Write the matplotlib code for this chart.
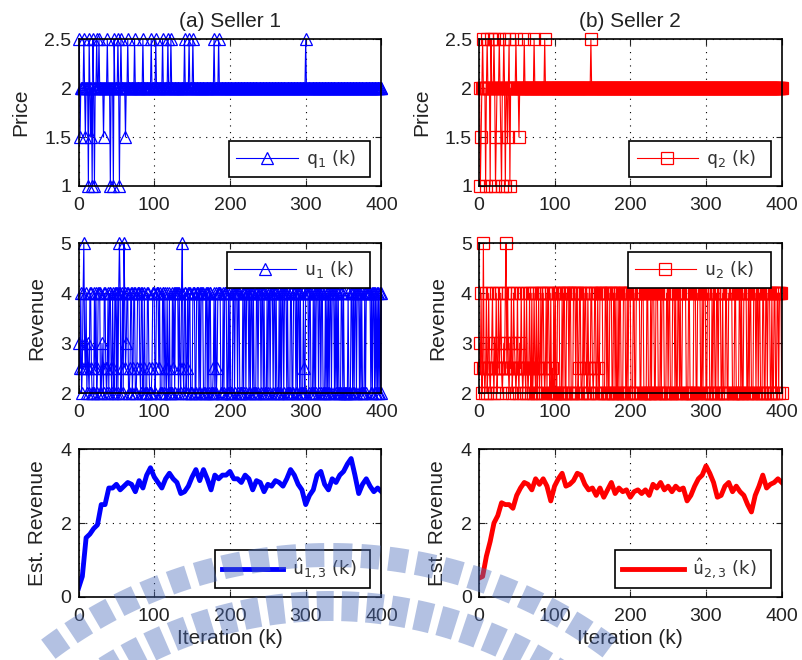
import numpy as np
import matplotlib
matplotlib.use('Agg')
import matplotlib.pyplot as plt
from matplotlib.patches import Wedge

plt.rcParams['font.family'] = ['Liberation Sans', 'DejaVu Sans']
plt.rcParams['mathtext.fontset'] = 'dejavusans'

iters = np.arange(1, 401)

# price spikes (all other iterations sit at 2)
q1_at_25 = [1, 7, 14, 19, 24, 27, 38, 47, 52, 56, 65, 74, 85, 96, 102, 111, 118, 122, 140, 146, 151, 179, 185, 300]
q1_at_15 = [2, 9, 16, 33, 62]
q1_at_10 = [13, 18, 21, 42, 46, 54]
q2_at_25 = [5, 11, 16, 20, 27, 33, 40, 49, 60, 73, 87, 148]
q2_at_15 = [3, 23, 29, 38, 53]
q2_at_10 = [2, 9, 15, 22, 30, 35, 41]

# revenue per iteration, 10 iterations per chunk: 2=2, h=2.5, 3=3, 4=4, 5=5
rev_code = {'2': 2.0, 'h': 2.5, '3': 3.0, '4': 4.0, '5': 5.0}
u1_rows = ["3h42h453h4", "23h244h222", "4h42h44422", "3h244h2h42", "44h24h2442",
           "424542h425", "4h34422h44", "2h4422h444", "h2442h4222", "44h222h444",
           "2h444h4222", "4424h24h24", "2224h42444", "424h245h24", "42h4244222",
           "4442244424", "2444222442", "4244222h42", "42h4444222", "4244422424",
           "2224424442", "4422224244", "2444242442", "4222442444", "2442422242",
           "4424442442", "4222424244", "2444242224", "4224442424", "4242224h24",
           "4442442224", "2424442442", "4422242424", "2442444242", "4242224424",
           "2222242224", "4242442444", "2424222424", "4444424244", "2424242424"]
u2_rows = ["3h42h5h2h4", "2h4h2h34h2", "3h42h4h34h", "2h3h45h4h2", "3h42h43h2h",
           "4h23h4h2h4", "h24h2h4h24", "2h4h242h42", "h4244h2h42", "44h242h242",
           "4224442224", "2442244424", "4222444244", "2h4422h424", "4h24h2244h",
           "2h44224h24", "4442224424", "2244422442", "4224244222", "4442242444",
           "2224422444", "4422444222", "2442224244", "4224442224", "2444222442",
           "4422244424", "2244242244", "4442224422", "2224442244", "4422424442",
           "2444222424", "4224424442", "2422244224", "4444222442", "2224424224",
           "4442242442", "2244424424", "4222442244", "2444224224", "4224424442"]

# estimated revenue, read every 5 iterations
est_k = list(range(0, 401, 5))
est1 = [0.23, 0.55, 1.6, 1.7, 1.85, 1.95, 2.5, 2.5, 2.95, 2.95, 3.05, 2.9, 3.0, 3.1, 3.05, 2.85,
        3.15, 2.95, 3.3, 3.5, 3.25, 3.1, 2.95, 3.2, 3.35, 3.2, 3.1, 2.8, 2.85, 3.0, 3.25, 3.45,
        3.15, 3.45, 3.2, 2.9, 3.3, 3.2, 3.3, 3.3, 3.4, 3.2, 3.2, 3.1, 3.3, 3.2, 2.9, 3.15, 3.1,
        2.85, 3.05, 3.0, 3.15, 3.1, 3.0, 3.2, 3.45, 3.3, 3.05, 2.9, 2.5, 2.75, 2.9, 3.3, 3.4,
        3.05, 2.9, 3.2, 3.1, 3.3, 3.4, 3.6, 3.75, 3.3, 2.8, 3.05, 3.2, 3.0, 2.85, 2.95, 2.85]
est2 = [0.5, 0.55, 1.1, 1.5, 2.0, 2.2, 2.55, 2.5, 2.5, 2.4, 2.75, 2.95, 3.1, 3.05, 2.9, 3.2,
        3.05, 3.2, 3.0, 2.6, 3.0, 3.2, 3.35, 3.0, 3.05, 3.15, 3.35, 3.3, 3.05, 2.9, 2.95, 2.75,
        2.95, 2.7, 2.9, 3.1, 2.8, 2.95, 2.85, 2.9, 2.7, 2.85, 2.9, 2.8, 2.9, 2.75, 3.05, 2.95,
        3.1, 2.9, 3.0, 2.85, 3.0, 2.9, 2.95, 2.6, 2.75, 3.0, 3.2, 3.3, 3.55, 3.35, 3.1, 2.7,
        2.75, 3.0, 3.1, 2.85, 3.0, 2.85, 2.75, 2.5, 2.3, 2.75, 3.0, 3.3, 2.95, 3.05, 3.1, 3.2, 3.1]


def price_series(up, mid, low):
    q = np.full(len(iters), 2.0)
    q[np.array(up) - 1] = 2.5
    q[np.array(mid) - 1] = 1.5
    q[np.array(low) - 1] = 1.0
    return q


q1 = price_series(q1_at_25, q1_at_15, q1_at_10)
q2 = price_series(q2_at_25, q2_at_15, q2_at_10)
u1 = np.array([rev_code[c] for c in ''.join(u1_rows)])
u2 = np.array([rev_code[c] for c in ''.join(u2_rows)])

fig = plt.figure(figsize=(8.03, 6.60), dpi=100)
cols = [0.0978, 0.5963]
rows = [(0.7182, 0.2223), (0.4041, 0.2273), (0.0959, 0.2233)]
W = 0.3772

leg_font = {'family': ['DejaVu Sans'], 'size': 13}


def style(ax, yticks, ylim, ylabel):
    ax.set_xlim(0, 400)
    ax.set_ylim(*ylim)
    ax.set_xticks([0, 100, 200, 300, 400])
    ax.set_yticks(yticks)
    ax.set_yticklabels([('%g' % t) for t in yticks])
    ax.tick_params(direction='in', length=4, top=True, right=True, labelsize=14, colors='#222222')
    ax.tick_params(axis='x', pad=8)
    ax.tick_params(axis='y', pad=5)
    ax.grid(True, color='k', linestyle=(0, (1, 5)), linewidth=0.8)
    ax.set_ylabel(ylabel, fontsize=15, color='#222222', labelpad=10)
    for sp in ax.spines.values():
        sp.set_linewidth(1.2)
        sp.set_zorder(5)


def legend(ax, box):
    lg = ax.legend(loc='center', bbox_to_anchor=box, mode='expand', borderaxespad=0,
                   prop=leg_font, handlelength=3.4, handletextpad=0.45, borderpad=0.4,
                   fancybox=False, framealpha=1, edgecolor='k')
    lg.get_frame().set_linewidth(1.2)
    for t in lg.get_texts():
        t.set_color('#333333')
    lg.set_zorder(10)


series = [
    ('b', '^', q1, u1, est1, '(a) Seller 1',
     r'$\mathtt{q}_{1}$ (k)', r'$\mathtt{u}_{1}$ (k)', r'$\hat{\mathtt{u}}_{1,3}$ (k)'),
    ('r', 's', q2, u2, est2, '(b) Seller 2',
     r'$\mathtt{q}_{2}$ (k)', r'$\mathtt{u}_{2}$ (k)', r'$\hat{\mathtt{u}}_{2,3}$ (k)'),
]

for ci, (c, mk, q, u, est, title, lq, lu, le) in enumerate(series):
    x0 = cols[ci]
    # price
    ax = fig.add_axes([x0, rows[0][0], W, rows[0][1]])
    ax.plot(iters, q, color=c, lw=0.8, marker=mk, ms=8, mfc='none', mec=c, mew=0.9,
            clip_on=False, label=lq, zorder=3)
    style(ax, [1, 1.5, 2, 2.5], (1, 2.5), 'Price')
    ax.set_title(title, fontsize=15, color='#222222', pad=9)
    legend(ax, (0.497, 0.073, 0.466, 0.223))

    # revenue
    ax = fig.add_axes([x0, rows[1][0], W, rows[1][1]])
    ax.plot(iters, u, color=c, lw=0.8, marker=mk, ms=8, mfc='none', mec=c, mew=0.9,
            clip_on=False, label=lu, zorder=3)
    style(ax, [2, 3, 4, 5], (2, 5), 'Revenue')
    legend(ax, (0.491, 0.709, 0.472, 0.226))

    # estimated revenue
    ax = fig.add_axes([x0, rows[2][0], W, rows[2][1]])
    ax.plot(est_k, est, color=c, lw=3.5, label=le, zorder=3)
    style(ax, [0, 2, 4], (0, 4), 'Est. Revenue')
    ax.set_xlabel('Iteration (k)', fontsize=15, color='#222222', labelpad=3)
    legend(ax, (0.45, 0.079, 0.513, 0.217))

# faint watermark ring across the bottom of the page (pixel coords, y down)
wm = fig.add_axes([0, 0, 1, 1], zorder=50)
wm.set_xlim(0, 803)
wm.set_ylim(660, 0)
wm.axis('off')
wm.patch.set_alpha(0)
for r_out, width, offset in [(480, 24, 0.0), (432, 30, 1.2)]:
    for a in np.arange(233 + offset, 307, 3.4):
        wm.add_patch(Wedge((330, 1023), r_out, a, a + 2.3, width=width,
                           facecolor='#4b6cba', edgecolor='none', alpha=0.42))

fig.savefig('out.png', dpi=100)
